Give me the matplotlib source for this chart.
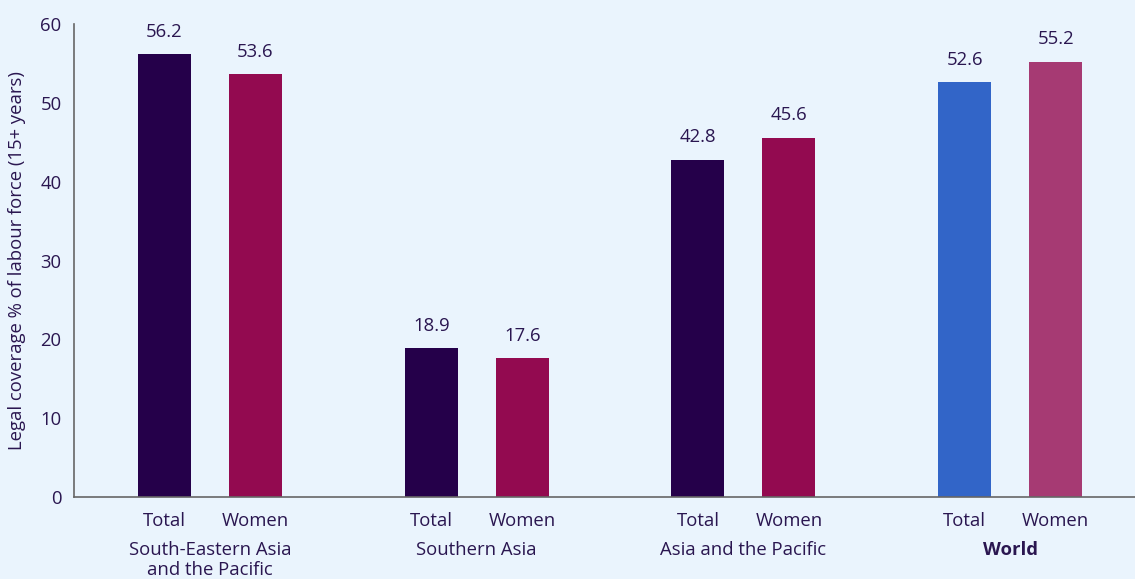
import matplotlib.pyplot as plt
import numpy as np

plt.rcParams['font.family'] = ['Open Sans', 'Noto Sans', 'DejaVu Sans']

groups = ["South-Eastern Asia\nand the Pacific", "Southern Asia", "Asia and the Pacific", "World"]
series = ["Total", "Women"]
total_vals = [56.2, 18.9, 42.8, 52.6]
women_vals = [53.6, 17.6, 45.6, 55.2]
yticks = [0, 10, 20, 30, 40, 50, 60]

bg = "#EAF4FD"
txt = "#2A1650"
total_colors = ["#25004A", "#25004A", "#25004A", "#3265C8"]
women_colors = ["#930A50", "#930A50", "#930A50", "#A63A73"]

fig = plt.figure(figsize=(11.35, 5.79), dpi=100, facecolor=bg)
ax = fig.add_axes([74 / 1135, 1 - 497 / 579, 1 - 74 / 1135, (497 - 24) / 579])
ax.set_facecolor(bg)

gap = 266.7
inner = 91
w = 53
x0 = 164.5 - 74
centers = np.arange(len(groups)) * gap + x0
xt = centers
xw = centers + inner

ax.bar(xt, total_vals, width=w, color=total_colors)
ax.bar(xw, women_vals, width=w, color=women_colors)

fs = 13.3
for x, v in zip(xt, total_vals):
    ax.text(x, v + 1.7, f"{v:.1f}", ha="center", va="bottom", fontsize=fs, color=txt)
for x, v in zip(xw, women_vals):
    ax.text(x, v + 1.7, f"{v:.1f}", ha="center", va="bottom", fontsize=fs, color=txt)

ax.set_xlim(0, 1135 - 74)
ax.set_ylim(0, 60)
ax.set_yticks(yticks)
ax.tick_params(axis="y", length=0, labelsize=fs, labelcolor=txt, pad=9)
ax.set_xticks(list(xt) + list(xw))
ax.set_xticklabels([series[0]] * 4 + [series[1]] * 4)
ax.tick_params(axis="x", length=0, labelsize=fs, labelcolor=txt, pad=11)

trans = ax.get_xaxis_transform()
for c, g in zip(centers, groups):
    ax.text(c + inner / 2, -0.092, g, transform=trans, ha="center", va="top",
            fontsize=fs, color=txt, linespacing=1.18,
            fontweight="bold" if g == "World" else "normal")

ax.set_ylabel("Legal coverage % of labour force (15+ years)", fontsize=fs, color=txt, labelpad=10)

for s in ["top", "right"]:
    ax.spines[s].set_visible(False)
ax.spines["left"].set_color("#666666")
ax.spines["bottom"].set_color("#666666")
ax.spines["left"].set_linewidth(1.2)
ax.spines["bottom"].set_linewidth(1.2)

fig.savefig("out.png", dpi=100, facecolor=bg)
